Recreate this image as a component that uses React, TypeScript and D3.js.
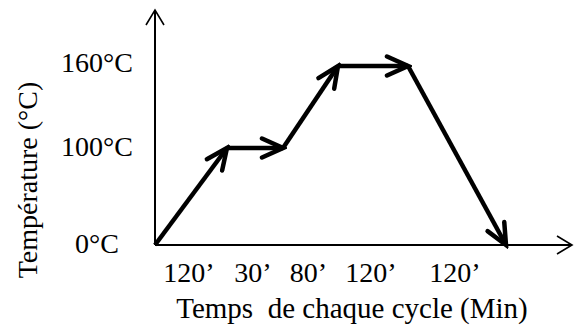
import { useEffect, useRef } from "react";
import * as d3 from "d3";

// phases of one cycle
const phaseMinutes = [120, 30, 80, 120, 120];
const phaseLabels = ["120’", "30’", "80’", "120’", "120’"];
// temperature at each phase boundary (°C)
const nodeTemps = [0, 100, 100, 160, 160, 0];
const tempTicks = [0, 100, 160];
const tempTickLabels = ["0°C", "100°C", "160°C"];

const width = 574;
const height = 331;
const font = "'Liberation Serif', 'Times New Roman', serif";

export default function App() {
  const svgRef = useRef<SVGSVGElement>(null);

  useEffect(() => {
    if (!svgRef.current) return;
    const svg = d3.select(svgRef.current);
    svg.selectAll("*").remove();

    const x0 = 155;
    const y0 = 245;

    // schematic (not proportional) axes: polylinear scales
    const cumMinutes = [0, ...d3.cumsum(phaseMinutes)];
    const x = d3
      .scaleLinear()
      .domain(cumMinutes)
      .range([x0, 227, 283, 338, 408, 506]);
    const y = d3.scaleLinear().domain(tempTicks).range([y0, 148, 66]);

    const defs = svg.append("defs");
    defs
      .append("marker")
      .attr("id", "head")
      .attr("markerUnits", "userSpaceOnUse")
      .attr("viewBox", "-24 -12 28 24")
      .attr("markerWidth", 28)
      .attr("markerHeight", 24)
      .attr("refX", 0)
      .attr("refY", 0)
      .attr("orient", "auto")
      .append("path")
      .attr("d", "M-21,-9.5L0,0L-21,9.5")
      .attr("fill", "none")
      .attr("stroke", "#000")
      .attr("stroke-width", 4.5)
      .attr("stroke-linecap", "round")
      .attr("stroke-linejoin", "miter");

    defs
      .append("marker")
      .attr("id", "axisHead")
      .attr("markerUnits", "userSpaceOnUse")
      .attr("viewBox", "-18 -12 20 24")
      .attr("markerWidth", 20)
      .attr("markerHeight", 24)
      .attr("refX", 0)
      .attr("refY", 0)
      .attr("orient", "auto")
      .append("path")
      .attr("d", "M-15,-9L0,0L-15,9")
      .attr("fill", "none")
      .attr("stroke", "#000")
      .attr("stroke-width", 1.6);

    // axes
    svg
      .append("line")
      .attr("x1", x0)
      .attr("y1", y0)
      .attr("x2", x0)
      .attr("y2", 10)
      .attr("stroke", "#000")
      .attr("stroke-width", 2)
      .attr("marker-end", "url(#axisHead)");
    svg
      .append("line")
      .attr("x1", x0)
      .attr("y1", y0)
      .attr("x2", 572)
      .attr("y2", y0)
      .attr("stroke", "#000")
      .attr("stroke-width", 2)
      .attr("marker-end", "url(#axisHead)");

    // cycle segments, each with its own arrow
    const nodes = cumMinutes.map((m, i) => [x(m), y(nodeTemps[i])] as [number, number]);
    const line = d3.line();
    svg
      .append("g")
      .selectAll("path")
      .data(d3.pairs(nodes))
      .join("path")
      .attr("d", (d) => line(d))
      .attr("fill", "none")
      .attr("stroke", "#000")
      .attr("stroke-width", 4.5)
      .attr("stroke-linecap", "butt")
      .attr("marker-end", "url(#head)");

    // y tick labels
    svg
      .append("g")
      .selectAll("text")
      .data(tempTicks)
      .join("text")
      .attr("x", 97)
      .attr("y", (d) => y(d) + (d === 160 ? 6 : 8))
      .attr("text-anchor", "middle")
      .attr("font-family", font)
      .attr("font-size", 28)
      .text((d, i) => tempTickLabels[i]);

    // x phase labels
    svg
      .append("g")
      .selectAll("text")
      .data(phaseLabels)
      .join("text")
      .attr("x", (d, i) => (x(cumMinutes[i]) + x(cumMinutes[i + 1])) / 2 - 2)
      .attr("y", 282)
      .attr("text-anchor", "middle")
      .attr("font-family", font)
      .attr("font-size", 28)
      .text((d) => d);

    svg
      .append("text")
      .attr("x", 352)
      .attr("y", 318)
      .attr("text-anchor", "middle")
      .attr("font-family", font)
      .attr("font-size", 29)
      .attr("xml:space", "preserve")
      .style("white-space", "pre")
      .text("Temps  de chaque cycle (Min)");

    svg
      .append("text")
      .attr("transform", "translate(37,180) rotate(-90)")
      .attr("text-anchor", "middle")
      .attr("font-family", font)
      .attr("font-size", 28)
      .text("Température (°C)");
  }, []);

  return (
    <svg
      ref={svgRef}
      width={width}
      height={height}
      style={{ position: "absolute", left: 0, top: 0, background: "#fff" }}
    />
  );
}
